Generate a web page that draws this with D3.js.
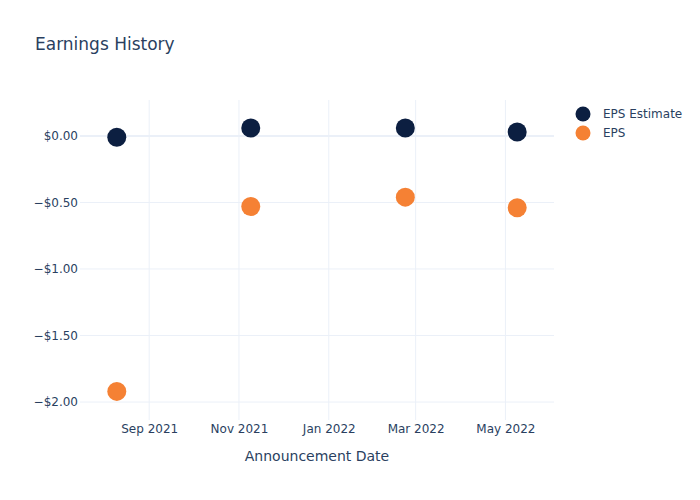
<!DOCTYPE html>
<html><head><meta charset="utf-8">
<script src="https://cdn.jsdelivr.net/npm/d3@7"></script>
<style>body{margin:0;background:#fff}svg{display:block}text{font-family:"DejaVu Sans",sans-serif;fill:#2a3f5f}</style>
</head><body><svg id="c" width="700" height="500"></svg>
<script>
const dates = ["2021-08-10","2021-11-09","2022-02-22","2022-05-09"];
const epsEstimate = [-0.01, 0.06, 0.06, 0.03];
const eps = [-1.92, -0.53, -0.46, -0.54];
const yTicks = [0, -0.5, -1, -1.5, -2];
const xTicks = ["2021-09-01","2021-11-01","2022-01-01","2022-03-01","2022-05-01"];
const seriesNames = ["EPS Estimate","EPS"];
const colors = ["#0c1f41","#f58134"];

const parse = d3.utcParse("%Y-%m-%d");
const svg = d3.select("#c");
const L=80,R=554,T=100,B=420;
const x = d3.scaleUtc().domain([parse("2021-07-16"), parse("2022-06-03")]).range([L,R]);
const y = d3.scaleLinear().domain([-2.135, 0.27]).range([B,T]);

const g = svg.append("g");
g.selectAll(".vg").data(xTicks).join("line")
 .attr("x1",d=>x(parse(d))).attr("x2",d=>x(parse(d))).attr("y1",T).attr("y2",B)
 .attr("stroke","#ebf0f8").attr("stroke-width",1);
g.selectAll(".hg").data(yTicks).join("line")
 .attr("x1",L).attr("x2",R).attr("y1",d=>y(d)).attr("y2",d=>y(d))
 .attr("stroke","#ebf0f8").attr("stroke-width",d=>d===0?2:1);

const fmt = v => (v<0?"\u2212":"")+"$"+Math.abs(v).toFixed(2);
const ya = d3.axisLeft(y).tickValues(yTicks).tickFormat(fmt).tickSize(0).tickPadding(2);
svg.append("g").attr("transform",`translate(${L},0)`).call(ya)
 .call(s=>s.select(".domain").remove())
 .call(s=>s.selectAll("text").style("font-size","12px").attr("fill","#2a3f5f"));
const xa = d3.axisBottom(x).tickValues(xTicks.map(parse)).tickFormat(d3.utcFormat("%b %Y")).tickSize(0).tickPadding(4);
svg.append("g").attr("transform",`translate(0,${B})`).call(xa)
 .call(s=>s.select(".domain").remove())
 .call(s=>s.selectAll("text").style("font-size","12px").attr("fill","#2a3f5f"));

const series=[epsEstimate, eps];
series.forEach((vals,i)=>{
  svg.append("g").selectAll("circle").data(vals).join("circle")
   .attr("cx",(d,j)=>x(parse(dates[j]))).attr("cy",d=>y(d)).attr("r",9.5)
   .attr("fill",colors[i]);
});

svg.append("text").attr("x",35).attr("y",50).style("font-size","17px").text("Earnings History");
svg.append("text").attr("x",(L+R)/2).attr("y",461).attr("text-anchor","middle").style("font-size","14px").text("Announcement Date");

const lg = svg.append("g");
seriesNames.forEach((n,i)=>{
  lg.append("circle").attr("cx",583).attr("cy",114+i*19).attr("r",7.5).attr("fill",colors[i]);
  lg.append("text").attr("x",603).attr("y",118+i*19).style("font-size","12px").text(n);
});
</script></body></html>
